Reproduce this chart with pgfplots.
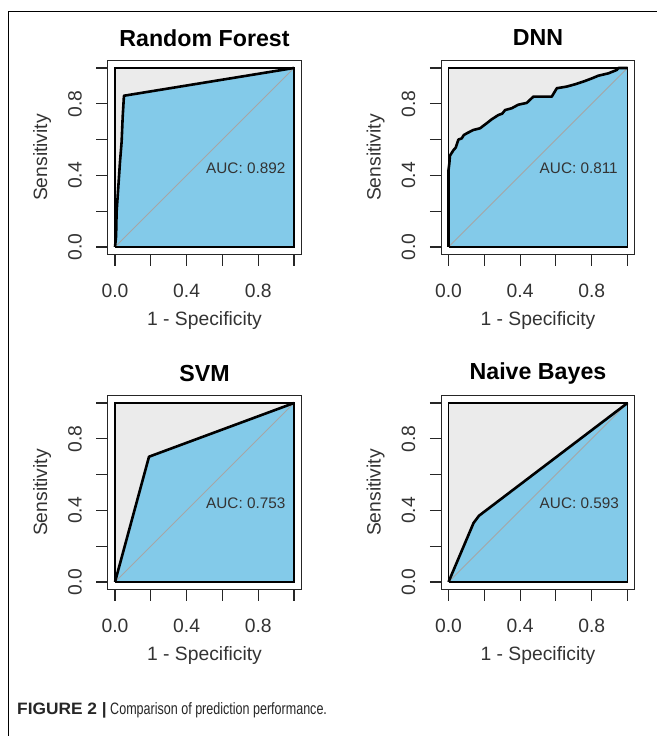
\documentclass[border=0pt]{standalone}
\usepackage{pgfplots}
\pgfplotsset{compat=1.18}
\usepackage{fontspec}
\setmainfont{Liberation Sans}
\newfontfamily\capfont[FakeStretch=0.76]{Liberation Sans}
\newfontfamily\capbold[FakeStretch=1.05]{Liberation Sans Bold}
\definecolor{rocgray}{HTML}{EBEBEB}
\definecolor{rocblue}{HTML}{83CAE9}
\definecolor{txtgray}{HTML}{333333}

\pgfplotsset{
  rocax/.style={
    scale only axis, width=193.32pt, height=193.32pt,
    xmin=-0.04, xmax=1.04, ymin=-0.04, ymax=1.04,
    axis line style={line width=1.1pt, black!85},
    xtick={0,0.2,0.4,0.6,0.8,1}, ytick={0,0.2,0.4,0.6,0.8,1},
    xticklabels={0.0,,0.4,,0.8,}, yticklabels={0.0,,0.4,,0.8,},
    xtick pos=left, ytick pos=left,
    tick align=outside, major tick length=11.5pt,
    tick style={line width=1.1pt, black!85},
    ticklabel style={font=\fontsize{19.3}{20}\selectfont, text=txtgray},
    yticklabel style={rotate=90, anchor=south},
    xticklabel style={anchor=north},
    yticklabel shift=11pt,
    xticklabel shift=15pt,
    title style={at={(0.5,1.087)}, anchor=center, font=\bfseries\fontsize{23.2}{24}\selectfont},
    xlabel style={at={(0.5,-0.345)}, anchor=center, font=\fontsize{19.3}{20}\selectfont, text=txtgray},
    ylabel style={at={(-0.34,0.5)}, anchor=center, font=\fontsize{19.3}{20}\selectfont, text=txtgray},
    xlabel={1 - Specificity}, ylabel={Sensitivity},
    clip=false,
  },
  maxpoly/.style={fill=rocgray, draw=none},
  aucpoly/.style={fill=rocblue, draw=none},
  diagline/.style={color=gray!70, line width=0.8pt},
  innerframe/.style={black, line width=1.4pt},
  outerframe/.style={black!85, line width=1.2pt},
  roccurve/.style={black, line width=2.6pt, line join=round},
}

\pgfplotstableread{
x y
0 0
0.006 0.06
0.009 0.197
0.018 0.328
0.028 0.477
0.037 0.588
0.043 0.728
0.05 0.845
1 1
}\rf

\pgfplotstableread{
x y
0 0
0 0.43
0.005 0.47
0.008 0.51
0.027 0.54
0.04 0.555
0.055 0.60
0.074 0.607
0.085 0.625
0.102 0.635
0.139 0.654
0.176 0.663
0.213 0.691
0.241 0.713
0.278 0.737
0.30 0.745
0.316 0.765
0.353 0.775
0.39 0.795
0.437 0.805
0.474 0.84
0.577 0.84
0.605 0.887
0.66 0.896
0.707 0.909
0.753 0.924
0.801 0.942
0.837 0.957
0.893 0.97
0.94 0.989
0.949 1.0
1 1
}\dnn

\pgfplotstableread{
x y
0 0
0.19 0.70
1 1
}\svm

\pgfplotstableread{
x y
0 0
0.14 0.33
0.17 0.37
1 1
}\nb

\begin{document}
\begin{tikzpicture}[x=1pt,y=1pt]
\useasboundingbox (0,0) rectangle (657,736);
\draw[line width=1.1pt, black] (8.3,0) -- (8.3,724.3) -- (657,724.3);

% Random Forest
\begin{axis}[rocax, at={(107.84pt,481.84pt)}, anchor=south west, title={Random Forest}]
  \addplot[maxpoly] coordinates {(0,0) (1,0) (1,1) (0,1) (0,0)};
  \addplot[aucpoly] table {\rf} \closedcycle;
  \addplot[diagline] coordinates {(0,0) (1,1)};
  \addplot[innerframe] coordinates {(0,0) (1,0) (1,1) (0,1) (0,0)};
  \addplot[outerframe] coordinates {(-0.04,-0.04) (1.04,-0.04) (1.04,1.04) (-0.04,1.04) (-0.04,-0.04)};
  \addplot[roccurve] table {\rf};
  \node[anchor=west, text=txtgray, font=\fontsize{15.3}{16}\selectfont] at (axis cs:0.49,0.44) {AUC: 0.892};
\end{axis}

% DNN
\begin{axis}[rocax, at={(441.34pt,481.84pt)}, anchor=south west, title={DNN}]
  \addplot[maxpoly] coordinates {(0,0) (1,0) (1,1) (0,1) (0,0)};
  \addplot[aucpoly] table {\dnn} \closedcycle;
  \addplot[diagline] coordinates {(0,0) (1,1)};
  \addplot[innerframe] coordinates {(0,0) (1,0) (1,1) (0,1) (0,0)};
  \addplot[outerframe] coordinates {(-0.04,-0.04) (1.04,-0.04) (1.04,1.04) (-0.04,1.04) (-0.04,-0.04)};
  \addplot[roccurve] table {\dnn};
  \node[anchor=west, text=txtgray, font=\fontsize{15.3}{16}\selectfont] at (axis cs:0.49,0.44) {AUC: 0.811};
\end{axis}

% SVM
\begin{axis}[rocax, at={(107.84pt,146.84pt)}, anchor=south west, title={SVM}]
  \addplot[maxpoly] coordinates {(0,0) (1,0) (1,1) (0,1) (0,0)};
  \addplot[aucpoly] table {\svm} \closedcycle;
  \addplot[diagline] coordinates {(0,0) (1,1)};
  \addplot[innerframe] coordinates {(0,0) (1,0) (1,1) (0,1) (0,0)};
  \addplot[outerframe] coordinates {(-0.04,-0.04) (1.04,-0.04) (1.04,1.04) (-0.04,1.04) (-0.04,-0.04)};
  \addplot[roccurve] table {\svm};
  \node[anchor=west, text=txtgray, font=\fontsize{15.3}{16}\selectfont] at (axis cs:0.49,0.44) {AUC: 0.753};
\end{axis}

% Naive Bayes
\begin{axis}[rocax, at={(441.34pt,146.84pt)}, anchor=south west, title={Naive Bayes}]
  \addplot[maxpoly] coordinates {(0,0) (1,0) (1,1) (0,1) (0,0)};
  \addplot[aucpoly] table {\nb} \closedcycle;
  \addplot[diagline] coordinates {(0,0) (1,1)};
  \addplot[innerframe] coordinates {(0,0) (1,0) (1,1) (0,1) (0,0)};
  \addplot[outerframe] coordinates {(-0.04,-0.04) (1.04,-0.04) (1.04,1.04) (-0.04,1.04) (-0.04,-0.04)};
  \addplot[roccurve] table {\nb};
  \node[anchor=west, text=txtgray, font=\fontsize{15.3}{16}\selectfont] at (axis cs:0.49,0.44) {AUC: 0.593};
\end{axis}

\node[anchor=west, inner sep=0pt, text=black!85] at (17,26) {\capbold\fontsize{16.5}{17}\selectfont FIGURE 2 |\capfont\fontsize{16.5}{17}\selectfont\ Comparison of prediction performance.};
\end{tikzpicture}
\end{document}
